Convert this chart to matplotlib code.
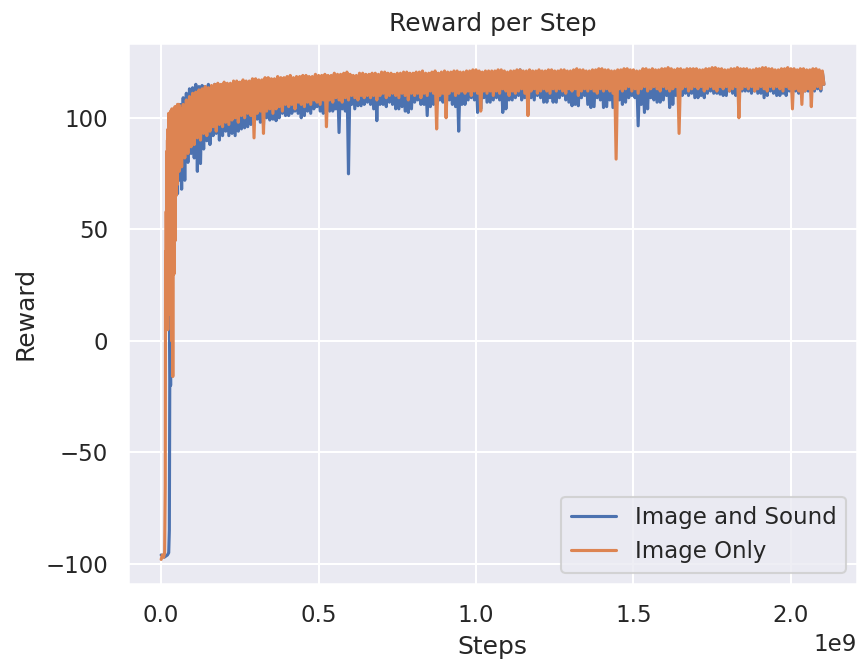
import numpy as np
import matplotlib
matplotlib.use("Agg")
import matplotlib.pyplot as plt
import seaborn as sns

# early rise (steps in units of 1e9)
sound_early_steps = [0.0, 0.01, 0.02, 0.024, 0.026, 0.028, 0.030, 0.032, 0.034, 0.036,
                     0.038, 0.040, 0.042, 0.044, 0.046, 0.048, 0.050, 0.052, 0.054, 0.056,
                     0.058]
sound_early_reward = [-96, -97, -96, -95, -85, 15, -20, 40, 90, 35,
                      95, 60, 100, 64, 102, 70, 104, 66, 106, 72,
                      105]

image_early_steps = [0.0, 0.004, 0.008, 0.011, 0.013, 0.014, 0.015, 0.016, 0.017, 0.018,
                     0.019, 0.020, 0.021, 0.022, 0.023, 0.024, 0.025, 0.026, 0.027, 0.028,
                     0.029, 0.030, 0.031, 0.032, 0.033, 0.034, 0.035, 0.036, 0.037, 0.038,
                     0.039, 0.040, 0.041, 0.042, 0.043, 0.044, 0.045, 0.046, 0.047, 0.048,
                     0.049, 0.050, 0.051, 0.052, 0.053, 0.054, 0.055, 0.056, 0.057, 0.058]
image_early_reward = [-98, -96, -97, -95, -65, 40, 10, 58, 15, 85,
                      20, 90, 5, 95, 25, 102, 18, 98, 30, 100,
                      12, 103, 35, 101, 0, 104, 28, 102, -16, 103,
                      40, 104, 30, 102, 55, 105, 45, 104, 65, 103,
                      75, 105, 70, 106, 78, 104, 80, 106, 76, 105]

# noisy band after the rise: one peak and one trough per logged interval
band_steps = np.linspace(0.06, 2.10, 205)

sound_peak = [
    106, 109, 111, 113, 113.5, 115, 114, 114.5, 114, 115,
    114, 115, 115, 114.5, 115.5, 115, 115, 116, 116, 115.5,
    116.5, 116, 116, 117, 117, 116.5, 116.5, 117.5, 117.5, 117,
    117, 118, 117.5, 117.5, 118, 118.5, 117.5, 118, 118, 118.5,
    118.5, 118, 118, 119, 118.5, 118.5, 119, 118.5, 118.5, 119.5,
    119, 119, 119.5, 120, 119, 118.5, 118.5, 119.5, 119.5, 119,
    119, 119.5, 119.5, 119, 120, 120, 119.5, 119.5, 119, 119.5,
    119.5, 120, 120, 119.5, 119.5, 120, 120, 120.5, 119.5, 119.5,
    120, 120.5, 119.5, 120, 120.5, 120, 120, 120.5, 120.5, 120,
    120, 120.5, 120.5, 121, 121, 120.5, 120, 120.5, 120.5, 120.5,
    120.5, 121, 121, 120.5, 120, 120.5, 120.5, 121, 121.5, 120.5,
    120.5, 121, 120.5, 120.5, 121, 120.5, 120.5, 121, 121, 120.5,
    120.5, 121, 121, 120.5, 120.5, 121, 121.5, 121, 121, 120.5,
    120.5, 121, 121, 121.5, 121.5, 121, 121, 120.5, 120.5, 121,
    121, 121.5, 121.5, 121, 121, 120.5, 120.5, 121.5, 121.5, 121,
    121.5, 121, 121, 121.5, 121.5, 122, 121.5, 121, 121.5, 121.5,
    121, 121.5, 121.5, 121.5, 121.5, 121, 121, 121.5, 121.5, 122,
    122, 121.5, 121.5, 121, 121, 121.5, 121.5, 122, 121.5, 121.5,
    121.5, 121, 121, 121.5, 121.5, 122, 122, 121.5, 121.5, 121,
    121, 121.5, 121.5, 122, 121.5, 121.5, 121, 121.5, 121.5, 121,
    121, 121.5, 121.5, 121, 120.5]
sound_trough = [
    68, 72, 80, 84, 82, 76, 79.5, 86, 89.7, 88,
    92, 93, 90, 92, 94, 92, 93, 92, 94, 95,
    95.5, 96, 97, 99, 99.4, 98, 97, 100, 99, 99.4,
    98.7, 100, 102, 101, 101, 102, 103, 102, 100, 101,
    103, 102, 104, 105, 103, 102, 104, 103, 103, 104,
    93.4, 104, 103, 74.9, 106, 104, 105.4, 105.4, 106, 107,
    106, 104, 98.7, 106, 106, 105, 107, 106, 104, 104,
    105, 103, 102.4, 104, 107, 108, 106, 106, 101, 105,
    106, 106, 108, 107, 107, 108, 106, 105, 94, 106,
    106, 108, 109, 108, 102.4, 104, 109, 107, 107, 108,
    109, 108, 102.4, 104, 108, 108, 109, 110, 108, 109,
    110, 109, 108, 110, 109, 107, 107, 109, 107, 107,
    109, 110, 108, 107, 105.4, 106, 105.4, 109, 110, 106,
    104.6, 105, 109, 108, 104.6, 105, 108, 104.6, 105, 108,
    106, 107, 109, 110, 109, 96.4, 106, 102.4, 104, 109,
    108, 107, 107, 108, 110, 104.6, 106, 110, 109, 110,
    111, 110, 111, 109, 109, 110, 109, 111, 112, 111,
    111, 110.6, 110, 110, 112, 111, 110, 111, 112, 112,
    112, 111, 112, 111, 111, 109, 110, 112, 111, 110,
    110, 111, 110, 112, 111, 112, 111, 111, 112, 112,
    112, 112, 113, 112, 115]

image_peak = [
    104, 106, 108, 109.5, 111, 111.5, 112.5, 113, 114, 113.5,
    114.5, 115, 115.5, 115, 116, 115.5, 115.5, 116.5, 116.5, 116,
    117, 116.5, 116.5, 117.5, 117.5, 117, 117, 118, 118, 117.5,
    117.5, 118.5, 118, 118, 118.5, 119, 118, 118.5, 118.5, 119,
    119, 118.5, 118.5, 119.5, 119, 119, 119.5, 119, 119, 120,
    119.5, 119.5, 120, 120.5, 119.5, 119, 119, 120, 120, 119.5,
    119.5, 120, 120, 119.5, 120.5, 120.5, 120, 120, 119.5, 120,
    120, 120.5, 120.5, 120, 120, 120.5, 120.5, 121, 120, 120,
    120.5, 121, 120, 120.5, 121, 120.5, 120.5, 121, 121, 120.5,
    120.5, 121, 121, 121.5, 121.5, 121, 120.5, 121, 121, 121,
    121, 121.5, 121.5, 121, 120.5, 121, 121, 121.5, 121.5, 121,
    121, 121.5, 121, 121, 121.5, 121, 121, 121.5, 121.5, 121,
    121, 121.5, 121.5, 121, 121, 121.5, 122, 121.5, 121.5, 121,
    121, 121.5, 121.5, 122, 122, 121.5, 121.5, 121, 121, 121.5,
    121.5, 122, 122, 121.5, 121.5, 121, 121, 122, 122, 121.5,
    122, 121.5, 121.5, 122, 122, 122.5, 122, 121.5, 122, 122,
    121.5, 122, 122, 122, 122, 121.5, 121.5, 122, 122, 122.5,
    122.5, 122, 122, 121.5, 121.5, 122, 122, 122.5, 122, 122,
    122, 121.5, 121.5, 122, 122, 122.5, 122.5, 122, 122, 121.5,
    121.5, 122, 122, 122.5, 122, 122, 121.5, 122, 122, 121.5,
    121.5, 122, 122, 121.5, 121]
image_trough = [
    78, 82, 84, 87, 88, 91, 90, 93, 92, 94,
    96, 94, 97, 96, 98, 97, 99, 100, 98, 101,
    100, 102, 101, 91, 102, 103, 93, 103, 104, 102,
    104, 105, 103, 106, 105, 106, 104, 107, 106, 105,
    107, 106, 108, 107, 106, 108, 96, 108, 107, 109,
    108, 107, 109, 108, 110, 109, 108, 110, 109, 110,
    109, 110, 108, 110, 111, 109, 110, 111, 110, 109,
    111, 110, 108, 111, 110, 111, 109, 111, 110, 112,
    111, 95, 110, 111, 100, 111, 112, 110, 111, 112,
    111, 112, 110, 112, 111, 103, 112, 111, 112, 110,
    112, 111, 113, 112, 110, 112, 111, 112, 113, 111,
    101, 112, 113, 111, 112, 113, 112, 111, 113, 112,
    113, 112, 111, 113, 112, 113, 110, 112, 113, 112,
    113, 112, 111, 113, 112, 113, 112, 111, 81.5, 113,
    112, 113, 114, 112, 113, 111, 113, 114, 112, 113,
    114, 113, 112, 114, 113, 112, 113, 114, 93, 113,
    114, 112, 113, 114, 113, 114, 112, 113, 114, 113,
    112, 114, 113, 114, 112, 113, 114, 100, 113, 114,
    113, 114, 112, 113, 114, 113, 112, 114, 113, 114,
    113, 112, 114, 113, 104, 113, 112, 106, 112, 113,
    105, 113, 114, 113, 115]

labels = ["Image and Sound", "Image Only"]


def build_series(early_steps, early_reward, peak, trough):
    # peak sits on the logged step, trough half an interval later
    xs = np.column_stack([band_steps, band_steps + 0.005]).ravel()
    ys = np.column_stack([peak, trough]).ravel()
    steps = np.concatenate([early_steps, xs]) * 1e9
    reward = np.concatenate([early_reward, ys])
    return steps, reward


sns.set_theme()
fig = plt.figure(figsize=(858 / 150, 666 / 150), dpi=150)
ax = fig.add_axes([0.1492, 0.1231, 0.8497, 0.8123])

s_x, s_y = build_series(sound_early_steps, sound_early_reward, sound_peak, sound_trough)
i_x, i_y = build_series(image_early_steps, image_early_reward, image_peak, image_trough)
ax.plot(s_x, s_y, label=labels[0])
ax.plot(i_x, i_y, label=labels[1])

ax.set_title("Reward per Step")
ax.set_xlabel("Steps")
ax.set_ylabel("Reward")
ax.legend(loc="lower right")

fig.savefig("out.png", dpi=150)
